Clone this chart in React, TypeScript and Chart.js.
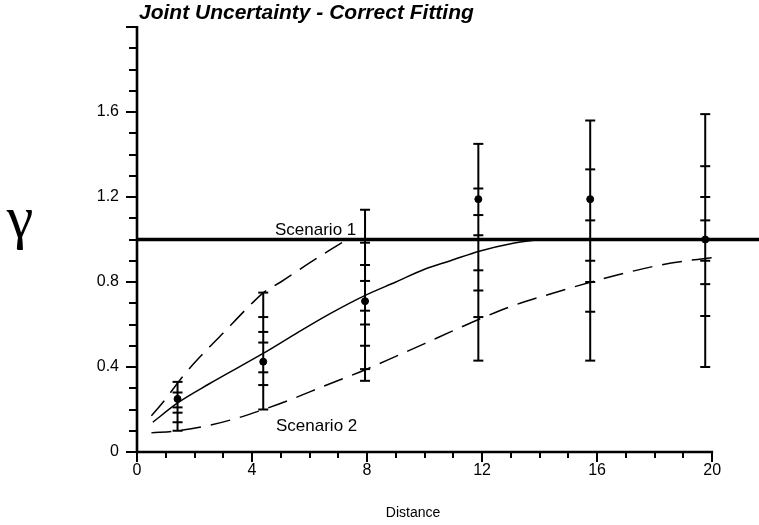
import React, { useEffect, useRef } from "react";
import { Chart, registerables } from "chart.js";

Chart.register(...registerables);

// ---------- data ----------
const xTickValues = [0, 4, 8, 12, 16, 20];
const yTickValues = [0, 0.4, 0.8, 1.2, 1.6];

const obsDistance = [1.41, 4.39, 7.93, 11.87, 15.76, 19.76];
const obsGamma = [0.25, 0.425, 0.71, 1.19, 1.19, 1.0];
// nested uncertainty marks on each error bar (top .. bottom)
const barMarks = [
  [0.33, 0.28, 0.21, 0.185, 0.14, 0.1],
  [0.75, 0.635, 0.565, 0.515, 0.375, 0.315, 0.2],
  [1.14, 0.985, 0.88, 0.805, 0.665, 0.6, 0.5, 0.39, 0.335],
  [1.45, 1.24, 1.115, 1.02, 0.855, 0.76, 0.635, 0.43],
  [1.56, 1.33, 1.09, 0.9, 0.8, 0.66, 0.43],
  [1.59, 1.345, 1.2, 1.09, 0.9, 0.79, 0.64, 0.4],
];

const fitDistance = [0.55, 1.4, 2.5, 4.4, 5.5, 6.7, 7.9, 9, 10, 10.9, 11.9, 13, 14];
const fitGamma = [0.14, 0.23, 0.32, 0.465, 0.555, 0.65, 0.735, 0.8, 0.86, 0.9, 0.945, 0.98, 1.0];

const scen1Distance = [0.5, 1, 1.5, 2, 3, 4, 4.4, 5, 6, 6.7, 7.3];
const scen1Gamma = [0.17, 0.25, 0.34, 0.42, 0.56, 0.7, 0.75, 0.8, 0.89, 0.95, 1.0];

const scen2Distance = [0.5, 1.4, 2.5, 3.5, 4.4, 5.5, 6.5, 7.9, 9, 10, 10.9, 11.9, 13, 14.4, 15.8, 17, 18.2, 19.3, 20];
const scen2Gamma = [0.09, 0.1, 0.125, 0.16, 0.2, 0.255, 0.31, 0.385, 0.45, 0.51, 0.565, 0.625, 0.685, 0.745, 0.8, 0.843, 0.88, 0.903, 0.914];

const scenario1Level = 1.0;

const X_MIN = 0;
const X_MAX = 21.63;
const X_AXIS_END = 20;
const Y_MIN = 0;
const Y_MAX = 2.0;

const FONT = "'Liberation Sans', Arial, Helvetica, sans-serif";

const decorPlugin = {
  id: "decor",
  afterDraw(chart: any) {
    const { ctx, scales } = chart;
    const xs = scales.x;
    const ys = scales.y;
    const x0 = xs.getPixelForValue(0);
    const y0 = ys.getPixelForValue(0);
    ctx.save();
    ctx.strokeStyle = "#000";
    ctx.fillStyle = "#000";
    ctx.lineCap = "butt";
    // axis lines
    ctx.lineWidth = 2.6;
    ctx.beginPath();
    ctx.moveTo(x0, ys.getPixelForValue(Y_MAX) - 1);
    ctx.lineTo(x0, y0);
    ctx.lineTo(xs.getPixelForValue(X_AXIS_END) + 1, y0);
    ctx.stroke();
    // y tick marks
    ctx.lineWidth = 2;
    for (let i = 0; i <= 20; i++) {
      const v = i / 10;
      const p = Math.round(ys.getPixelForValue(v));
      const major = i % 4 === 0;
      ctx.beginPath();
      ctx.moveTo(x0, p);
      ctx.lineTo(x0 - (major ? 11 : 8), p);
      ctx.stroke();
    }
    // x tick marks
    for (let i = 0; i <= 20; i++) {
      const p = Math.round(xs.getPixelForValue(i));
      const major = i % 4 === 0;
      ctx.beginPath();
      ctx.moveTo(p, y0);
      ctx.lineTo(p, y0 + (major ? 10 : 6));
      ctx.stroke();
    }
    // texts
    ctx.textBaseline = "alphabetic";
    ctx.textAlign = "left";
    ctx.font = `italic bold 21px ${FONT}`;
    ctx.fillText("Joint Uncertainty - Correct Fitting", 139, 19);

    ctx.font = `17px ${FONT}`;
    ctx.fillText("Scenario 1", 275, 235);
    ctx.fillText("Scenario 2", 276, 431);

    ctx.textAlign = "center";
    ctx.font = `14px ${FONT}`;
    ctx.fillText("Distance", 413, 517);

    ctx.font = `60px 'Liberation Serif', 'DejaVu Serif', serif`;
    ctx.fillText("γ", 20, 237);
    ctx.restore();
  },
};

export default function App() {
  const ref = useRef<HTMLCanvasElement | null>(null);

  useEffect(() => {
    if (!ref.current) return;

    const stems: any[] = [];
    const marks: any[] = [];
    barMarks.forEach((m, i) => {
      const hi = Math.max(...m);
      const lo = Math.min(...m);
      stems.push({ x: obsDistance[i], y: lo });
      stems.push({ x: obsDistance[i], y: hi });
      stems.push({ x: obsDistance[i], y: null });
      m.forEach((v) => marks.push({ x: obsDistance[i], y: v }));
    });

    const toPts = (xs: number[], ys: number[]) => xs.map((x, i) => ({ x, y: ys[i] }));

    const chart = new Chart(ref.current, {
      type: "scatter",
      data: {
        datasets: [
          {
            label: "Scenario 1 level",
            data: [
              { x: X_MIN, y: scenario1Level },
              { x: X_MAX, y: scenario1Level },
            ],
            showLine: true,
            borderColor: "#000",
            borderWidth: 3.5,
            pointRadius: 0,
          },
          {
            label: "Fit",
            data: toPts(fitDistance, fitGamma),
            showLine: true,
            borderColor: "#000",
            borderWidth: 1.5,
            pointRadius: 0,
            cubicInterpolationMode: "monotone",
          },
          {
            label: "Scenario 1",
            data: toPts(scen1Distance, scen1Gamma),
            showLine: true,
            borderColor: "#000",
            borderWidth: 1.5,
            borderDash: [20, 10],
            pointRadius: 0,
            cubicInterpolationMode: "monotone",
          },
          {
            label: "Scenario 2",
            data: toPts(scen2Distance, scen2Gamma),
            showLine: true,
            borderColor: "#000",
            borderWidth: 1.5,
            borderDash: [20, 10],
            pointRadius: 0,
            cubicInterpolationMode: "monotone",
          },
          {
            label: "stems",
            data: stems,
            showLine: true,
            spanGaps: false,
            borderColor: "#000",
            borderWidth: 2,
            pointRadius: 0,
          },
          {
            label: "marks",
            data: marks,
            showLine: false,
            pointStyle: "line",
            pointRadius: 5,
            borderColor: "#000",
            borderWidth: 2,
          },
          {
            label: "observed",
            data: toPts(obsDistance, obsGamma),
            showLine: false,
            pointStyle: "circle",
            pointRadius: 3.5,
            backgroundColor: "#000",
            borderColor: "#000",
            borderWidth: 1,
          },
        ],
      } as any,
      options: {
        responsive: false,
        maintainAspectRatio: false,
        devicePixelRatio: 1,
        animation: false,
        layout: { autoPadding: false, padding: { top: 27, right: 0, left: 0, bottom: 0 } },
        plugins: {
          legend: { display: false },
          tooltip: { enabled: false },
          title: { display: false },
        },
        scales: {
          x: {
            type: "linear",
            min: X_MIN,
            max: X_MAX,
            grid: { display: false, drawTicks: false },
            border: { display: false },
            afterBuildTicks: (s: any) => {
              s.ticks = xTickValues.map((v) => ({ value: v }));
            },
            afterFit: (s: any) => {
              s.height = 73;
              s.paddingLeft = 0;
              s.paddingRight = 0;
            },
            ticks: {
              padding: 9,
              color: "#000",
              font: { family: FONT, size: 16 },
              maxRotation: 0,
              callback: (v: any) => String(v),
            },
          },
          y: {
            type: "linear",
            min: Y_MIN,
            max: Y_MAX,
            grid: { display: false, drawTicks: false },
            border: { display: false },
            afterBuildTicks: (s: any) => {
              s.ticks = yTickValues.map((v) => ({ value: v }));
            },
            afterFit: (s: any) => {
              s.width = 137;
              s.paddingTop = 0;
              s.paddingBottom = 0;
            },
            ticks: {
              padding: 18,
              color: "#000",
              font: { family: FONT, size: 16 },
              callback: (v: any) => (v === 0 ? "0" : Number(v).toFixed(1)),
            },
          },
        },
      } as any,
      plugins: [decorPlugin],
    });

    return () => chart.destroy();
  }, []);

  return (
    <div style={{ position: "absolute", left: 0, top: 0, width: 759, height: 525, background: "#fff" }}>
      <canvas ref={ref} width={759} height={525} style={{ width: 759, height: 525, display: "block" }} />
    </div>
  );
}
